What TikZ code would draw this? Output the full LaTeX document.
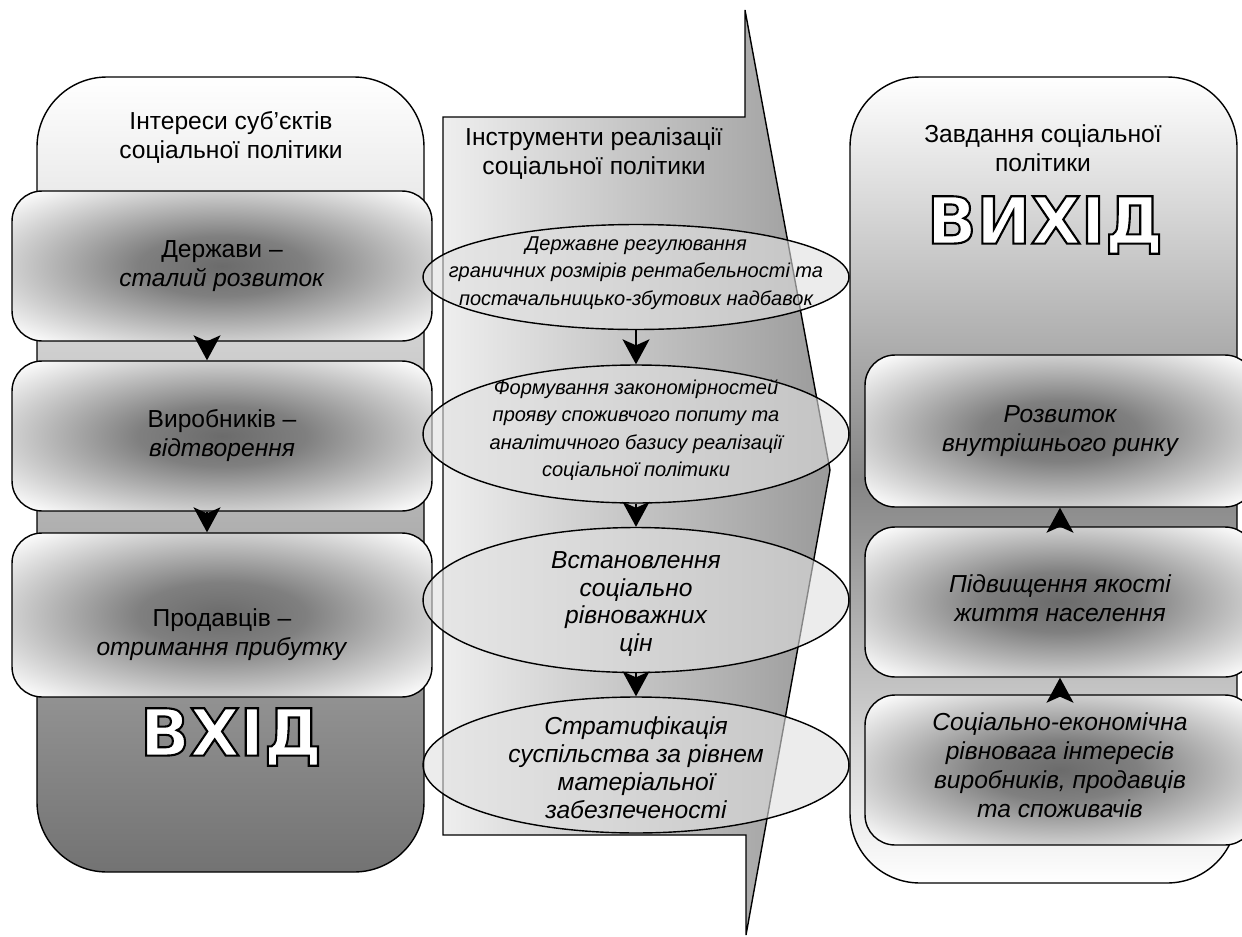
\documentclass[tikz,border=0pt]{standalone}
\usepackage{fontspec}
\setmainfont{Liberation Sans}
\newfontfamily\bigfont{DejaVu Sans}
\usetikzlibrary{arrows.meta,shapes.geometric,calc}

\pgfdeclareradialshading{boxglow}{\pgfpoint{0bp}{0bp}}{color(0bp)=(black!58); color(10bp)=(black!50); color(34bp)=(white); color(50bp)=(white)}
\pgfdeclarehorizontalshading{arrowsh}{100bp}{color(0bp)=(white); color(15bp)=(white); color(100bp)=(black!56)}

\newcommand\outlined[1]{{\color{white}\special{pdf:literal direct 2 Tr 1.2 w 0 G}#1\special{pdf:literal direct 0 Tr}}}

\begin{document}
\begin{tikzpicture}[x=0.02cm,y=-0.02cm,
  every node/.style={align=center, font=\fontsize{14}{16.5}\selectfont},
  outl/.style={draw, line width=0.8pt},
  lbox/.style={outl, rounded corners=0.6cm, minimum width=8.4cm, minimum height=3cm, shade, shading=boxglow, inner sep=0pt},
  rbox/.style={lbox, minimum width=7.8cm, font=\itshape\fontsize{14}{16.5}\selectfont},
  ell/.style={ellipse, outl, fill=black!12, fill opacity=0.6, minimum width=8.52cm, inner sep=0pt},
  etxt/.style={font=\itshape\fontsize{11.4}{15.6}\selectfont, inner sep=0pt},
  etxtb/.style={font=\itshape\fontsize{14}{15.9}\selectfont, inner sep=0pt},
  arr/.style={-{Stealth[length=0.5cm,width=0.54cm,inset=0.12cm]}, line width=0.8pt},
  bigword/.style={font=\bigfont\bfseries\fontsize{37}{40}\selectfont, inner sep=0pt}
]
\clip (0,0) rectangle (1242,937);
\fill[white] (0,0) rectangle (1242,937);

% left column
\path[outl, rounded corners=1.4cm, top color=white, bottom color=black!55] (37,77) rectangle (424,872);
\node (ltitle) at (231,137) {Інтереси суб’єктів\\соціальної політики};
\node[lbox] (l1) at (222,266) {Держави –\\\textit{сталий розвиток}};
\node[lbox] (l2) at (222,436) {Виробників –\\\textit{відтворення}};
\node[lbox, minimum height=3.28cm] (l3) at (222,615) {};
\node (l3t) at (222,635) {Продавців –\\\textit{отримання прибутку}};
\draw[arr] ([xshift=-0.3cm]l1.south) -- ([xshift=-0.3cm]l2.north);
\draw[arr] ([xshift=-0.3cm]l2.south) -- ([xshift=-0.3cm]l3.north);
\node[bigword] (vhid) at (231,737) {\outlined{ВХІД}};

% middle arrow
\path[outl, shading=arrowsh] (443,117) -- (745,117) -- (745,10) -- (830,470) -- (746,935) -- (746,835) -- (443,835) -- cycle;
\node (mtitle) at (594,154) {Інструменти реалізації\\соціальної політики};
\node[ell, minimum height=2.1cm] (e1) at (636,277) {};
\node[etxt] (e1t) at (636,273) {Державне регулювання\\граничних розмірів рентабельності та\\постачальницько-збутових надбавок};
\node[ell, minimum height=2.76cm] (e2) at (636,434) {};
\node[etxt] (e2t) at (636,430) {Формування закономірностей\\прояву споживчого попиту та\\аналітичного базису реалізації\\соціальної політики};
\node[ell, minimum height=2.9cm] (e3) at (636,600) {};
\node[etxtb] (e3t) at (636,604) {Встановлення\\соціально\\рівноважних\\цін};
\node[ell, minimum height=2.72cm] (e4) at (636,765) {};
\node[etxtb] (e4t) at (636,768) {Стратифікація\\суспільства за рівнем\\матеріальної\\забезпеченості};
\draw[arr] (e1.south) -- (e2.north);
\draw[arr] (e2.south) -- (e3.north);
\draw[arr] (e3.south) -- (e4.north);

% right column
\path[outl, rounded corners=1.4cm, top color=white, bottom color=white, middle color=black!48] (850,77) rectangle (1237,883);
\node (rtitle) at (1043,148) {Завдання соціальної\\політики};
\node[bigword] (vyhid) at (1045,225) {\outlined{ВИХІД}};
\node[rbox, minimum height=3.04cm] (r1) at (1060,431) {Розвиток\\внутрішнього ринку};
\node[rbox] (r2) at (1060,602) {};
\node[font=\itshape\fontsize{14}{16.5}\selectfont] (r2t) at (1060,598) {Підвищення якості\\життя населення};
\node[rbox] (r3) at (1060,770) {};
\node[font=\itshape\fontsize{14}{16.5}\selectfont] (r3t) at (1060,765) {Соціально-економічна\\рівновага інтересів\\виробників, продавців\\та споживачів};
\draw[arr] (r2.north) -- (r1.south);
\draw[arr] (r3.north) -- (r2.south);
\end{tikzpicture}
\end{document}
